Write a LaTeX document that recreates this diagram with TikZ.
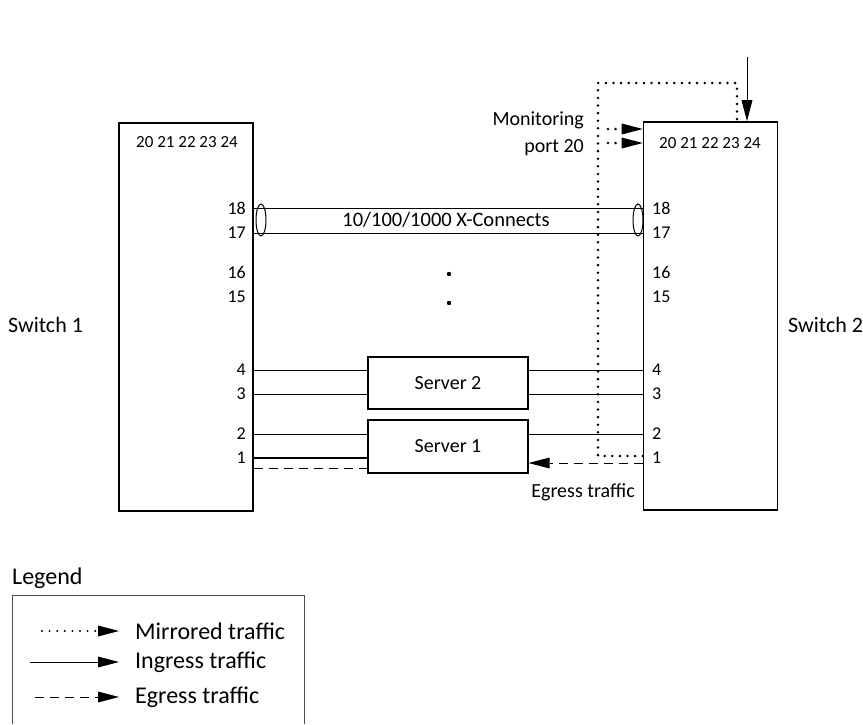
\documentclass[tikz,border=0pt]{standalone}
\usepackage{fontspec}
\setmainfont{Carlito}
\usetikzlibrary{arrows.meta,positioning}
\tikzset{
  switchbox/.style={draw,line width=1.6pt,minimum width=134pt,minimum height=388pt,inner sep=0pt},
  serverbox/.style={draw,line width=1.1pt,minimum width=160pt,minimum height=52pt,font=\fontsize{20}{24}\selectfont},
  portlbl/.style={font=\fontsize{18}{20}\selectfont,inner sep=1pt},
  toplbl/.style={font=\fontsize{17}{20}\selectfont,inner sep=1pt},
  txt/.style={font=\fontsize{20}{27}\selectfont,inner sep=0pt},
  bigtxt/.style={font=\fontsize{22}{26}\selectfont,inner sep=0pt},
  legtxt/.style={font=\fontsize{24}{28}\selectfont,inner sep=0pt},
  cable/.style={line width=1pt},
  mirrored/.style={line width=2.8pt,dash pattern=on 0pt off 7.6pt,line cap=round},
  egress/.style={line width=1pt,dash pattern=on 9pt off 6pt},
  tip/.style={-{Triangle[length=21pt,width=11pt,line width=0pt,round=false]}}
}
\begin{document}
\begin{tikzpicture}[x=1pt,y=-1pt]
\useasboundingbox (0,0) rectangle (863,724);
\node[switchbox] (sw1) at (186,317) {};
\node[switchbox] (sw2) at (710.5,316) {};
\node[toplbl] (top1) at (187,142) {20 21 22 23 24};
\node[toplbl] (top2) at (710,143) {20 21 22 23 24};
\foreach \p/\y in {18/208,17/233,16/272,15/297,4/370,3/394,2/434,1/458}{
  \node[portlbl,anchor=east] (a\p) at (247,\y) {\p};
  \node[portlbl,anchor=west] (b\p) at (651,\y) {\p};
}
\node[bigtxt,anchor=west] (name1) at (8,325) {Switch 1};
\node[bigtxt,anchor=west] (name2) at (788,325) {Switch 2};
%X-connects
\draw[cable] (sw1.east |- a18) -- (sw2.west |- b18);
\draw[cable] (sw1.east |- a17) -- (sw2.west |- b17);
\draw[line width=1pt] (261,220) ellipse (5pt and 16pt);
\draw[line width=1pt] (638,220) ellipse (5pt and 16pt);
\node[txt,font=\fontsize{20.5}{24}\selectfont] (xc) at (446,220) {10/100/1000 X-Connects};
\fill (449,274) circle (2.2pt) (449,303) circle (2.2pt);
%servers
\node[serverbox] (srv2) at (448,383) {Server 2};
\node[serverbox,minimum height=53pt] (srv1) at (448,446.5) {Server 1};
\foreach \p in {4,3}{
  \draw[cable] (sw1.east |- a\p) -- (srv2.west |- a\p);
  \draw[cable] (srv2.east |- b\p) -- (sw2.west |- b\p);
}
\draw[cable] (sw1.east |- a2) -- (srv1.west |- a2);
\draw[cable] (srv1.east |- b2) -- (sw2.west |- b2);
\draw[cable,line width=1.4pt] (sw1.east |- a1) -- (srv1.west |- a1);
\draw[egress] (sw1.east |- 0,468) -- (srv1.west |- 0,468);
\draw[egress,tip] (sw2.west |- 0,463) -- (srv1.east |- 0,463);
\node[txt] (egr) at (583,492) {Egress traffic};
%mirror path
\draw[mirrored] (sw2.west |- 0,456) -| (598,83) -| (sw2.north -| 737,0);
\draw[mirrored,tip] (608,129) -- (sw2.west |- 0,129);
\draw[mirrored,tip] (608,143) -- (sw2.west |- 0,143);
\draw[line width=1pt,tip] (747,57) -- (sw2.north -| 747,0);
\node[txt,align=right,anchor=east] (mon) at (584,134) {Monitoring\\port 20};
%legend
\node[legtxt,anchor=west] (leg) at (12,578) {Legend};
\draw[line width=1pt,black!70] (12,724) |- (304,595) -- (304,724);
\node[legtxt,anchor=west] (lm) at (135,631) {Mirrored traffic};
\node[legtxt,anchor=west] (li) at (135,662) {Ingress traffic};
\node[legtxt,anchor=west] (le) at (135,697) {Egress traffic};
\draw[mirrored,line width=2.2pt,tip] ([xshift=-93pt]lm.west) -- ([xshift=-16pt]lm.west);
\draw[line width=1pt,tip] ([xshift=-105pt]li.west) -- ([xshift=-16pt]li.west);
\draw[egress,tip] ([xshift=-100pt]le.west) -- ([xshift=-16pt]le.west);
\end{tikzpicture}
\end{document}
